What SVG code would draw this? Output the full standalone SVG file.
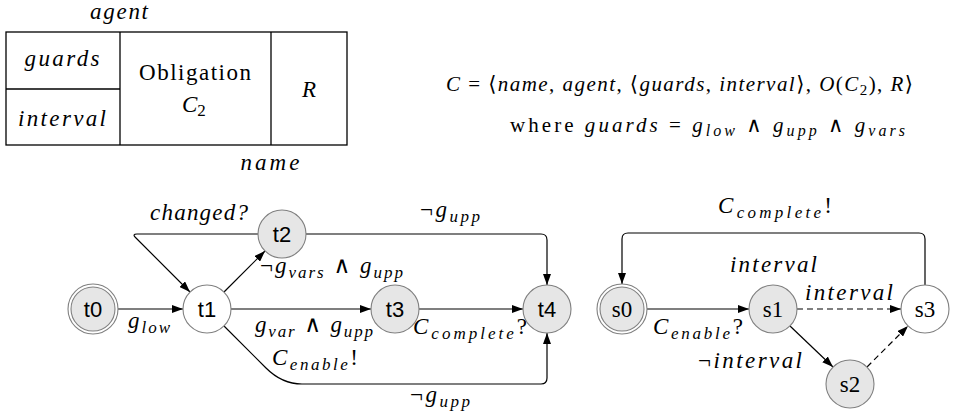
<svg xmlns="http://www.w3.org/2000/svg" width="977" height="415" viewBox="0 0 977 415">
<defs>
<marker id="ah" markerUnits="userSpaceOnUse" markerWidth="11" markerHeight="8" refX="11" refY="4" orient="auto">
<path d="M0,0 L11,4 L0,8 z" fill="#000"/>
</marker>
<style>
.m{font-style:italic;font-size:23px;fill:#000}
.r{font-style:normal}
.sb{font-size:17px}
.f{font-size:21px;fill:#000}
.bx{fill:none;stroke:#000;stroke-width:1.3}
.ng{fill:#e6e6e6;stroke:#808080;stroke-width:1.1}
.nw{fill:#fff;stroke:#808080;stroke-width:1.1}
.ds{fill:#fff;stroke:#808080;stroke-width:1.1}
.tl{font-size:22px;text-anchor:middle;fill:#000}
.sl{font-size:23px;text-anchor:middle;fill:#000}
.e{fill:none;stroke:#000;stroke-width:1.2;marker-end:url(#ah)}
.d{stroke-dasharray:6,4}
</style>
</defs>
<rect width="977" height="415" fill="#fff"/>

<g id="contract-box" font-family="Liberation Serif, Times New Roman, DejaVu Serif, serif">
<rect class="bx" x="6" y="32" width="341" height="113"/>
<line class="bx" x1="120" y1="32" x2="120" y2="145"/>
<line class="bx" x1="271" y1="32" x2="271" y2="145"/>
<line class="bx" x1="6" y1="89" x2="120" y2="89"/>
<text class="m" x="119" y="19" text-anchor="middle" textLength="58">agent</text>
<text class="m" x="62" y="66" text-anchor="middle" textLength="75">guards</text>
<text class="m" x="62" y="126" text-anchor="middle" textLength="88">interval</text>
<text class="m r" x="195" y="80" text-anchor="middle" textLength="112">Obligation</text>
<text class="m" x="182" y="112">C<tspan class="r sb" dy="4">2</tspan></text>
<text class="m" x="309" y="97" text-anchor="middle">R</text>
<text class="m" x="270" y="170" text-anchor="middle" textLength="59">name</text>
</g>

<g id="formula" font-family="Liberation Serif, Times New Roman, DejaVu Serif, serif">
<text class="f" x="446" y="91" textLength="467"><tspan font-style="italic">C</tspan> = ⟨<tspan font-style="italic">name</tspan>, <tspan font-style="italic">agent</tspan>, ⟨<tspan font-style="italic">guards</tspan>, <tspan font-style="italic">interval</tspan>⟩, <tspan font-style="italic">O</tspan>(<tspan font-style="italic">C</tspan><tspan font-size="15" dy="4">2</tspan><tspan dy="-4">), </tspan><tspan font-style="italic">R</tspan>⟩</text>
<text class="f" x="510" y="132" font-size="22" textLength="395">where <tspan font-style="italic">guards</tspan> = <tspan font-style="italic">g</tspan><tspan font-style="italic" font-size="16" dy="4">low</tspan><tspan dy="-4"> ∧ </tspan><tspan font-style="italic">g</tspan><tspan font-style="italic" font-size="16" dy="4">upp</tspan><tspan dy="-4"> ∧ </tspan><tspan font-style="italic">g</tspan><tspan font-style="italic" font-size="16" dy="4">vars</tspan></text>
</g>

<g id="connectors">
<path class="e" d="M118,309 L183,309"/>
<path class="e" d="M231,309 L371,309"/>
<path class="e" d="M419,309 L523,309"/>
<path class="e" d="M224,292 L265,251"/>
<path class="e" d="M258,234 L137,234 Q132,234 135.5,237.5 L190,292"/>
<path class="e" d="M306,234 L541,234 Q547,234 547,240 L547,285"/>
<path class="e" d="M224,326 L266,368 Q282,384 302,384 L541,384 Q547,384 547,378 L547,333"/>
<path class="e" d="M647,309 L749,309"/>
<path class="e d" d="M797,309 L901,309"/>
<path class="e" d="M790,326 L833,367"/>
<path class="e d" d="M867,367 L908,326"/>
<path class="e" d="M925,285 L925,239 Q925,233 919,233 L628,233 Q622,233 622,239 L622,284"/>
</g>

<g id="edge-labels" font-family="Liberation Serif, Times New Roman, DejaVu Serif, serif">
<text class="m" x="150" y="220" textLength="98">changed?</text>
<text class="m" x="420" y="217" textLength="60"><tspan class="r">¬</tspan>g<tspan class="sb" dy="5">upp</tspan></text>
<text class="m" x="260" y="273" textLength="143"><tspan class="r">¬</tspan>g<tspan class="sb" dy="5">vars</tspan><tspan class="r" dy="-5"> ∧ </tspan>g<tspan class="sb" dy="5">upp</tspan></text>
<text class="m" x="128" y="328" textLength="42">g<tspan class="sb" dy="5">low</tspan></text>
<text class="m" x="255" y="332" textLength="118">g<tspan class="sb" dy="5">var</tspan><tspan class="r" dy="-5"> ∧ </tspan>g<tspan class="sb" dy="5">upp</tspan></text>
<text class="m" x="413" y="334" textLength="114">C<tspan class="sb" dy="5">complete</tspan><tspan class="r" dy="-5">?</tspan></text>
<text class="m" x="272" y="365" textLength="86">C<tspan class="sb" dy="5">enable</tspan><tspan class="r" dy="-5">!</tspan></text>
<text class="m" x="410" y="402" textLength="60"><tspan class="r">¬</tspan>g<tspan class="sb" dy="5">upp</tspan></text>
<text class="m" x="718" y="213" textLength="114">C<tspan class="sb" dy="5">complete</tspan><tspan class="r" dy="-5">!</tspan></text>
<text class="m" x="730" y="272" textLength="87">interval</text>
<text class="m" x="805" y="300" textLength="88">interval</text>
<text class="m" x="653" y="334" textLength="90">C<tspan class="sb" dy="5">enable</tspan><tspan class="r" dy="-5">?</tspan></text>
<text class="m" x="698" y="368" textLength="104"><tspan class="r">¬</tspan>interval</text>
</g>

<g id="t0" font-family="Liberation Sans, Arial, sans-serif"><circle class="ds" cx="93" cy="309" r="25"/><circle class="ng" cx="93" cy="309" r="22"/><text class="tl" x="93" y="317">t0</text></g>
<g id="t1" font-family="Liberation Sans, Arial, sans-serif"><circle class="nw" cx="207" cy="309" r="24"/><text class="tl" x="207" y="317">t1</text></g>
<g id="t2" font-family="Liberation Sans, Arial, sans-serif"><circle class="ng" cx="282" cy="234" r="24"/><text class="tl" x="282" y="242">t2</text></g>
<g id="t3" font-family="Liberation Sans, Arial, sans-serif"><circle class="ng" cx="395" cy="309" r="24"/><text class="tl" x="395" y="317">t3</text></g>
<g id="t4" font-family="Liberation Sans, Arial, sans-serif"><circle class="ng" cx="547" cy="309" r="24"/><text class="tl" x="547" y="317">t4</text></g>
<g id="s0" font-family="Liberation Serif, Times New Roman, DejaVu Serif, serif"><circle class="ds" cx="622" cy="309" r="25"/><circle class="ng" cx="622" cy="309" r="22"/><text class="sl" x="622" y="317">s0</text></g>
<g id="s1" font-family="Liberation Serif, Times New Roman, DejaVu Serif, serif"><circle class="ng" cx="773" cy="309" r="24"/><text class="sl" x="773" y="317">s1</text></g>
<g id="s2" font-family="Liberation Serif, Times New Roman, DejaVu Serif, serif"><circle class="ng" cx="850" cy="384" r="24"/><text class="sl" x="850" y="392">s2</text></g>
<g id="s3" font-family="Liberation Serif, Times New Roman, DejaVu Serif, serif"><circle class="nw" cx="925" cy="309" r="24"/><text class="sl" x="925" y="317">s3</text></g>
</svg>
